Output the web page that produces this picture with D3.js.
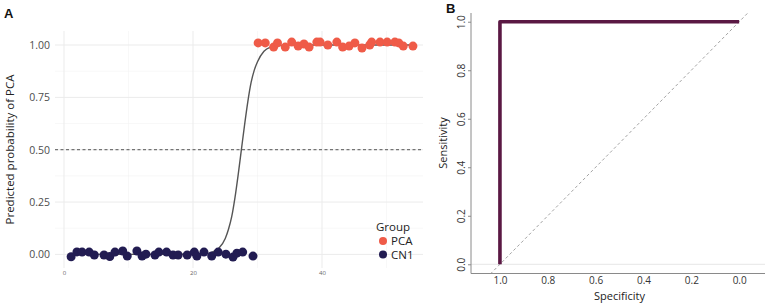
<!DOCTYPE html>
<html><head><meta charset="utf-8">
<script src="https://cdn.jsdelivr.net/npm/d3@7"></script>
<style>body{margin:0;background:#fff}svg{display:block;font-family:"Open Sans",sans-serif}</style>
</head><body><svg id="c" width="767" height="304"></svg>
<script>
// Panel A data
const cnX = [1.1, 2.0, 2.8, 3.9, 4.7, 6.2, 7.1, 7.9, 9.1, 9.8, 11.3, 12.1, 12.7, 14.1, 14.7, 15.9, 16.9, 17.7, 19.1, 20.2, 20.6, 21.7, 22.9, 23.9, 25.1, 26.2, 26.8, 27.7, 29.3];
const cnY = [-0.011, 0.012, 0.011, 0.011, -0.003, -0.003, -0.010, 0.011, 0.016, -0.008, 0.016, -0.008, 0.001, -0.003, 0.011, 0.011, -0.003, -0.003, -0.003, 0.011, -0.008, 0.011, -0.008, 0.011, 0.001, -0.013, 0.006, 0.011, -0.008];
const pcaX = [30.1, 31.2, 32.5, 33.1, 34.3, 35.3, 36.3, 37.2, 38.0, 39.2, 39.7, 40.9, 42.3, 43.2, 44.2, 45.1, 46.2, 47.4, 47.7, 49.0, 50.1, 51.3, 51.9, 52.6, 54.1];
const pcaY = [1.010, 1.010, 0.990, 1.010, 0.990, 1.014, 0.995, 1.005, 0.990, 1.014, 1.014, 1.0, 1.014, 0.990, 0.995, 1.010, 0.986, 1.0, 1.014, 1.014, 1.014, 1.014, 1.010, 0.995, 0.995];
const fitX = [1, 20, 22, 23, 24, 25, 25.5, 26, 26.5, 27, 27.5, 28, 28.5, 29, 29.5, 30, 31, 32, 33, 35, 54];
const fitY = [0, 0.001, 0.004, 0.011, 0.029, 0.076, 0.12, 0.18, 0.27, 0.38, 0.5, 0.62, 0.73, 0.82, 0.88, 0.92, 0.97, 0.99, 0.996, 1.0, 1.0];
const aXTicks = [0, 20, 40];
const aXMinor = [10, 30, 50];
const aYTicks = [0, 0.25, 0.5, 0.75, 1.0];
const aYMinor = [0.125, 0.375, 0.625, 0.875];
const groups = ["PCA", "CN1"];
const groupColors = ["#ef5b48", "#221c52"];
// Panel B data
const rocSpec = [1, 1, 0];
const rocSens = [0, 1, 1];
const bTicks = [0, 0.2, 0.4, 0.6, 0.8, 1.0];

const svg = d3.select("#c");

// ---------- Panel A ----------
const xA = d3.scaleLinear().domain([-1.4, 55.66]).range([55, 423]);
const yA = d3.scaleLinear().domain([-0.065, 1.067]).range([268, 31]);
const gA = svg.append("g");

gA.selectAll(".vmin").data(aXMinor).join("line")
  .attr("x1", d => xA(d)).attr("x2", d => xA(d)).attr("y1", yA.range()[0]).attr("y2", yA.range()[1])
  .attr("stroke", "#f3f3f3").attr("stroke-width", 0.6);
gA.selectAll(".hmin").data(aYMinor).join("line")
  .attr("y1", d => yA(d)).attr("y2", d => yA(d)).attr("x1", xA.range()[0]).attr("x2", xA.range()[1])
  .attr("stroke", "#f3f3f3").attr("stroke-width", 0.6);
gA.selectAll(".vmaj").data(aXTicks).join("line")
  .attr("x1", d => xA(d)).attr("x2", d => xA(d)).attr("y1", yA.range()[0]).attr("y2", yA.range()[1])
  .attr("stroke", "#ebebeb").attr("stroke-width", 1);
gA.selectAll(".hmaj").data(aYTicks).join("line")
  .attr("y1", d => yA(d)).attr("y2", d => yA(d)).attr("x1", xA.range()[0]).attr("x2", xA.range()[1])
  .attr("stroke", "#ebebeb").attr("stroke-width", 1);

const axA = gA.append("g").attr("transform", `translate(${xA.range()[0]},0)`)
  .call(d3.axisLeft(yA).tickValues(aYTicks).tickFormat(d3.format(".2f")).tickSize(0).tickPadding(5));
axA.select(".domain").remove();
axA.selectAll("text").attr("font-family", "Open Sans").attr("font-size", 10.5).attr("fill", "#4d4d4d");

const axAx = gA.append("g").attr("transform", `translate(0,${yA.range()[0]})`)
  .call(d3.axisBottom(xA).tickValues(aXTicks).tickSize(0).tickPadding(3));
axAx.select(".domain").remove();
axAx.selectAll("text").attr("font-family", "Open Sans").attr("font-size", 6).attr("fill", "#666");

gA.append("line").attr("x1", xA.range()[0]).attr("x2", xA.range()[1])
  .attr("y1", yA(0.5)).attr("y2", yA(0.5))
  .attr("stroke", "#555").attr("stroke-width", 1).attr("stroke-dasharray", "3,2.5");

const fit = fitX.map((x, i) => [x, fitY[i]]);
gA.append("path").datum(fit)
  .attr("d", d3.line().x(d => xA(d[0])).y(d => yA(d[1])).curve(d3.curveMonotoneX))
  .attr("fill", "none").attr("stroke", "#555").attr("stroke-width", 1.4);

const cn = cnX.map((x, i) => [x, cnY[i]]);
const pca = pcaX.map((x, i) => [x, pcaY[i]]);
gA.selectAll(".cn").data(cn).join("circle")
  .attr("cx", d => xA(d[0])).attr("cy", d => yA(d[1])).attr("r", 4.5).attr("fill", groupColors[1]);
gA.selectAll(".pca").data(pca).join("circle")
  .attr("cx", d => xA(d[0])).attr("cy", d => yA(d[1])).attr("r", 4.5).attr("fill", groupColors[0]);

gA.append("text").attr("transform", `translate(14,${(yA.range()[0] + yA.range()[1]) / 2}) rotate(-90)`)
  .attr("text-anchor", "middle").attr("font-size", 11.5).attr("fill", "#222")
  .text("Predicted probability of PCA");

const leg = gA.append("g");
leg.append("text").attr("x", 376).attr("y", 231).attr("font-size", 11.5).attr("fill", "#222").text("Group");
groups.forEach((g, i) => {
  const cy = 241 + i * 13.5;
  leg.append("circle").attr("cx", 383).attr("cy", cy).attr("r", 4).attr("fill", groupColors[i]);
  leg.append("text").attr("x", 391).attr("y", cy + 4).attr("font-size", 11.5).attr("fill", "#222").text(g);
});

svg.append("text").attr("x", 4).attr("y", 18).attr("font-family", "Liberation Sans, Arial, sans-serif")
  .attr("font-weight", "bold").attr("font-size", 13).attr("fill", "#111").text("A");

// ---------- Panel B ----------
const xB = d3.scaleLinear().domain([1.121, -0.108]).range([471, 765]);
const yB = d3.scaleLinear().domain([-0.038, 1.036]).range([273.5, 13]);
const gB = svg.append("g");

svg.append("clipPath").attr("id", "clipB").append("rect")
  .attr("x", 471).attr("y", 13).attr("width", 294).attr("height", 260.5);

gB.append("line").attr("x1", 471).attr("x2", 765).attr("y1", yB(0)).attr("y2", yB(0))
  .attr("stroke", "#e6e6e6").attr("stroke-width", 1);

gB.append("line").attr("clip-path", "url(#clipB)")
  .attr("x1", xB(xB.domain()[0])).attr("y1", yB(1 - xB.domain()[0]))
  .attr("x2", xB(xB.domain()[1])).attr("y2", yB(1 - xB.domain()[1]))
  .attr("stroke", "#999").attr("stroke-width", 0.9).attr("stroke-dasharray", "3,2.5");

const ayB = gB.append("g").attr("transform", "translate(471,0)")
  .call(d3.axisLeft(yB).tickValues(bTicks).tickFormat(d3.format(".1f")).tickSize(3).tickPadding(3));
ayB.select(".domain").attr("d", `M0,13V273.5`).attr("stroke", "#8a8a8a");
ayB.selectAll(".tick line").attr("stroke", "#8a8a8a");
ayB.selectAll("text").attr("font-family", "Open Sans").attr("font-size", 10).attr("fill", "#333")
  .attr("transform", "rotate(-90)").attr("text-anchor", "middle")
  .attr("x", 0).attr("dy", 0).attr("y", -6);

const axB = gB.append("g").attr("transform", "translate(0,273.5)")
  .call(d3.axisBottom(xB).tickValues(bTicks).tickFormat(d3.format(".1f")).tickSize(0).tickPadding(3));
axB.select(".domain").attr("d", `M471,0H765`).attr("stroke", "#8a8a8a");
axB.selectAll("text").attr("font-family", "Open Sans").attr("font-size", 10).attr("fill", "#333");

const roc = rocSpec.map((s, i) => [s, rocSens[i]]);
gB.append("path").datum(roc)
  .attr("d", d3.line().x(d => xB(d[0])).y(d => yB(d[1])))
  .attr("fill", "none").attr("stroke", "#5a1843").attr("stroke-width", 3.6)
  .attr("stroke-linejoin", "round");

gB.append("text").attr("x", (xB(1) + xB(0)) / 2).attr("y", 300).attr("text-anchor", "middle")
  .attr("font-size", 11).attr("fill", "#222").text("Specificity");
gB.append("text").attr("transform", `translate(447,${(yB(0) + yB(1)) / 2}) rotate(-90)`)
  .attr("text-anchor", "middle").attr("font-size", 11).attr("fill", "#222").text("Sensitivity");

svg.append("text").attr("x", 446).attr("y", 13).attr("font-family", "Liberation Sans, Arial, sans-serif")
  .attr("font-weight", "bold").attr("font-size", 13).attr("fill", "#111").text("B");
</script></body></html>
